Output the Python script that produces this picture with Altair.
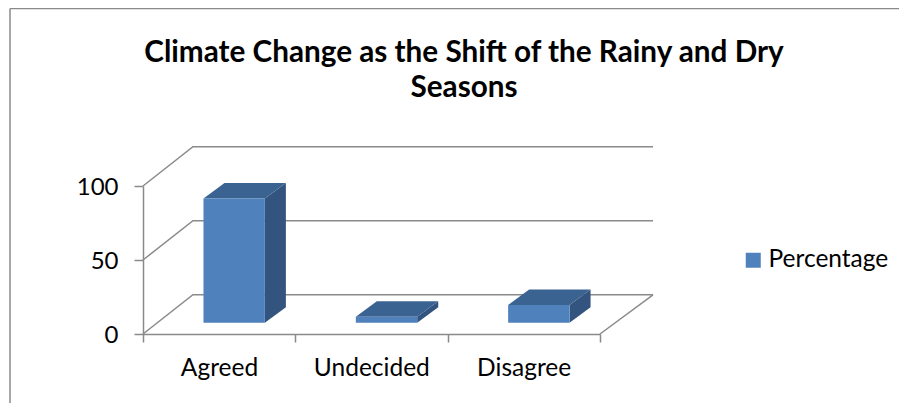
import altair as alt
import pandas as pd

categories = ["Agreed", "Undecided", "Disagree"]
values = [84, 4, 12]
series_name = "Percentage"
y_ticks = [0, 50, 100]
title_lines = ["Climate Change as the Shift of the Rainy and Dry", "Seasons"]

FONT = "Lato"
GREY = "#8a8a8a"
FRONT, TOP, SIDE = "#4F81BD", "#3B6391", "#33547F"

# oblique projection, in data units of the two scales
WALL_X, WALL_X_END, WALL_Y = 0.328, 3.348, 26.5
BAR_START, BAR_W, BAR_DX, BAR_DY, BAR_BASE = 0.397, 0.403, 0.138, 10.5, 7.6

walls = []
for t in y_ticks:
    walls += [dict(k=f"w{t}", o=0, px=0, py=t),
              dict(k=f"w{t}", o=1, px=WALL_X, py=t + WALL_Y),
              dict(k=f"w{t}", o=2, px=WALL_X_END, py=t + WALL_Y)]
walls += [dict(k="floor", o=0, px=WALL_X_END, py=WALL_Y), dict(k="floor", o=1, px=3, py=0)]
walls = pd.DataFrame(walls)

front, side, top = [], [], []
for i, (c, v) in enumerate(zip(categories, values)):
    x0, x1 = i + BAR_START, i + BAR_START + BAR_W
    y0, y1 = BAR_BASE, BAR_BASE + v
    front.append(dict(c=c, s=series_name, x0=x0, x1=x1, y0=y0, y1=y1))
    side += [dict(c=c, x=x1, y0=y0, y1=y1), dict(c=c, x=x1 + BAR_DX, y0=y0 + BAR_DY, y1=y1 + BAR_DY)]
    top += [dict(c=c, y=y1, x0=x0, x1=x1), dict(c=c, y=y1 + BAR_DY, x0=x0 + BAR_DX, x1=x1 + BAR_DX)]
front, side, top = map(pd.DataFrame, (front, side, top))

xs = alt.Scale(domain=[0, 3], nice=False, zero=False, clamp=False)
ys = alt.Scale(domain=[0, 100], nice=False, zero=False, clamp=False)
label_list = "[" + ",".join(f"'{c}'" for c in categories) + "]"

wall_layer = alt.Chart(walls).mark_line(color=GREY, strokeWidth=1.5).encode(
    x=alt.X("px:Q", scale=xs, title=None, axis=alt.Axis(
        values=[0, 1, 2, 3], grid=False, tickSize=8, tickColor=GREY, tickWidth=1.5,
        domainColor=GREY, domainWidth=1.5, labelExpr=f"{label_list}[datum.value] || ''",
        labelOffset=76, labelPadding=14, labelFont=FONT, labelFontSize=24.5, labelColor="#000000",
        labelOverlap=False, labelBound=False, labelFlush=False, labelAngle=0)),
    y=alt.Y("py:Q", scale=ys, title=None, axis=alt.Axis(
        values=y_ticks, grid=False, tickSize=9, tickColor=GREY, tickWidth=1.5,
        domainColor=GREY, domainWidth=1.5, labelPadding=16, labelFont=FONT, labelFontSize=24,
        labelOffset=1.5, labelColor="#000000", labelOverlap=False, labelBound=False, labelFlush=False)),
    detail="k:N", order="o:Q")

front_layer = alt.Chart(front).mark_rect().encode(
    x=alt.X("x0:Q", scale=xs, title=None), x2="x1:Q",
    y=alt.Y("y0:Q", scale=ys, title=None), y2="y1:Q",
    fill=alt.Fill("s:N", scale=alt.Scale(domain=[series_name], range=[FRONT]),
                  legend=alt.Legend(title=None, orient="none", legendX=598, legendY=62,
                                    symbolType="square", symbolSize=225, symbolStrokeWidth=0,
                                    labelFont=FONT, labelFontSize=24.5, labelColor="#000000",
                                    labelOffset=3)))

side_layer = alt.Chart(side).mark_area(color=SIDE, orient="vertical").encode(
    x=alt.X("x:Q", scale=xs, title=None),
    y=alt.Y("y0:Q", scale=ys, title=None), y2="y1:Q", detail="c:N")

top_layer = alt.Chart(top).mark_area(color=TOP, orient="horizontal").encode(
    y=alt.Y("y:Q", scale=ys, title=None),
    x=alt.X("x0:Q", scale=xs, title=None), x2="x1:Q", detail="c:N")

frame_left = alt.Chart(front.head(1)).mark_rule(color=GREY, strokeWidth=1.5).encode(
    x=alt.value(-133), y=alt.value(-177.5), y2=alt.value(217))
frame_top = alt.Chart(front.head(1)).mark_rule(color=GREY, strokeWidth=1.5).encode(
    x=alt.value(-133), x2=alt.value(756), y=alt.value(-177.5))

chart = alt.layer(frame_left, frame_top, wall_layer, side_layer, top_layer, front_layer).properties(
    width=457, height=148,
    autosize=alt.AutoSizeParams(type="none"),
    padding={"left": 135, "top": 178, "right": 299, "bottom": 69},
    background="white",
    title=alt.TitleParams(text=title_lines, font=FONT, fontSize=29.7, fontWeight="bold", color="#000000",
                          anchor="middle", dx=92.5, offset=-96, lineHeight=35),
).configure_view(stroke=None)

chart.save("out.html", embed_options={"renderer": "svg", "actions": False})
